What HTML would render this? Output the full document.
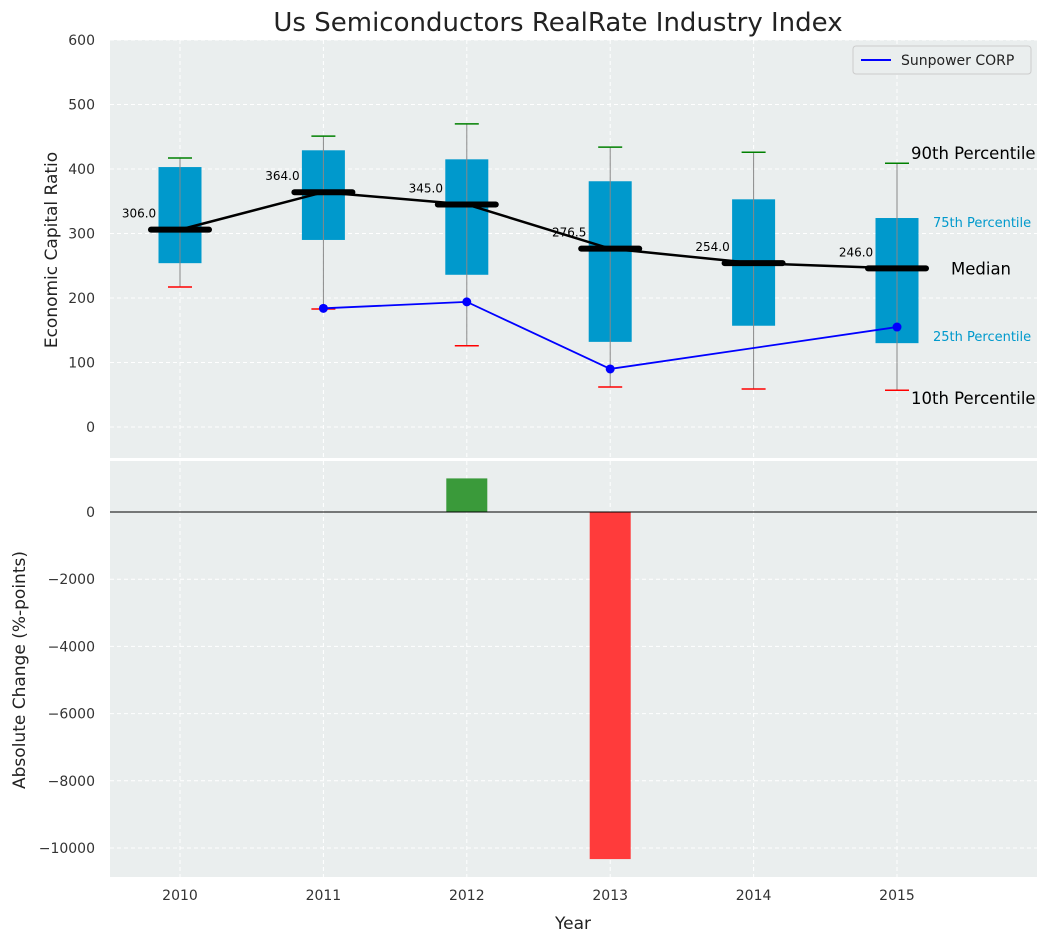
<!DOCTYPE html>
<html><head><meta charset="utf-8"><style>
body{margin:0;background:#fff;font-family:"Liberation Sans","DejaVu Sans",sans-serif}
svg text{font-family:"DejaVu Sans","Liberation Sans",sans-serif}
</style></head><body>
<svg id="chart" width="1048" height="942" xmlns="http://www.w3.org/2000/svg">
<text x="558" y="31" font-size="26" text-anchor="middle" fill="#222">Us Semiconductors RealRate Industry Index</text>
<rect x="110" y="40" width="927" height="418" fill="#eaeeee"/>
<rect x="110" y="461" width="927" height="416" fill="#eaeeee"/>
<g id="grid"></g>
<g id="marks"></g>
<text transform="translate(57,250) rotate(-90)" font-size="17" text-anchor="middle" fill="#222">Economic Capital Ratio</text>
<text transform="translate(25,670) rotate(-90)" font-size="17" text-anchor="middle" fill="#222">Absolute Change (%-points)</text>
<text x="573" y="929" font-size="17" text-anchor="middle" fill="#222">Year</text>
<g>
<rect x="853" y="46" width="178" height="28" fill="#eaeeee" stroke="#ccc" rx="3"/>
<line x1="861" y1="60" x2="891" y2="60" stroke="blue" stroke-width="2"/>
<text x="901" y="65" font-size="14" fill="#222">Sunpower CORP</text>
</g>
</svg>
<script>
const years=[2010,2011,2012,2013,2014,2015];
const p10=[217,183,126,62,59,57];
const p25=[254,290,236,132,157,130];
const median=[306,364,345,276.5,254,246];
const p75=[403,429,415,381,353,324];
const p90=[417,451,470,434,426,409];
const companyYears=[2011,2012,2013,2015];
const companyVals=[184,194,90,155];
const changeYears=[2012,2013];
const changeVals=[1000,-10330];
const topTicks=[600,500,400,300,200,100,0];
const botTicks=[0,-2000,-4000,-6000,-8000,-10000];

const NS="http://www.w3.org/2000/svg";
const X=y=>180+(y-2010)*143.4;
const Y1=v=>427-v*0.645;
const Y2=v=>512-v*0.0336;
const grid=document.getElementById('grid'), marks=document.getElementById('marks'), svg=document.getElementById('chart');
function el(t,a,p){const e=document.createElementNS(NS,t);for(const k in a)e.setAttribute(k,a[k]);(p||marks).appendChild(e);return e;}
function tx(s,a,p){const e=el('text',a,p);e.textContent=s;return e;}

topTicks.forEach(v=>{
 const g=el('line',{x1:110,x2:1037,y1:Y1(v),y2:Y1(v),stroke:'#fff','stroke-dasharray':'4,3','stroke-width':1},grid);
 
 
 const t=tx(String(v),{x:95,y:Y1(v)+5,'font-size':14,'text-anchor':'end',fill:'#333'},svg);
 
 
});
botTicks.forEach(v=>{
 const g=el('line',{x1:110,x2:1037,y1:Y2(v),y2:Y2(v),stroke:'#fff','stroke-dasharray':'4,3','stroke-width':1},grid);
 
 
 const t=tx(String(v).replace('-','\u2212'),{x:95,y:Y2(v)+5,'font-size':14,'text-anchor':'end',fill:'#333'},svg);
 
 
});
years.forEach(y=>{
 [[40,458],[461,877]].forEach(r=>{const g=el('line',{x1:X(y),x2:X(y),y1:r[0],y2:r[1],stroke:'#fff','stroke-dasharray':'4,3'},grid);
 
 });
 const t=tx(String(y),{x:X(y),y:900,'font-size':14,'text-anchor':'middle',fill:'#333'},svg);
 
 
});

years.forEach((y,i)=>{
 const x=X(y);
 const b=el('rect',{x:x-21.5,y:Y1(p75[i]),width:43,height:Y1(p25[i])-Y1(p75[i]),fill:'#0099cc'});
 
 
 const w=el('line',{x1:x,x2:x,y1:Y1(p90[i]),y2:Y1(p10[i]),stroke:'#888','stroke-width':1});
 
 
 const c1=el('line',{x1:x-12,x2:x+12,y1:Y1(p90[i]),y2:Y1(p90[i]),stroke:'green','stroke-width':1.5});
 
 
 const c2=el('line',{x1:x-12,x2:x+12,y1:Y1(p10[i]),y2:Y1(p10[i]),stroke:'red','stroke-width':1.5});
 
 
});
const ml=el('polyline',{points:years.map((y,i)=>X(y)+','+Y1(median[i])).join(' '),fill:'none',stroke:'#000','stroke-width':2.5});


years.forEach((y,i)=>{
 const m=el('line',{x1:X(y)-29,x2:X(y)+29,y1:Y1(median[i]),y2:Y1(median[i]),stroke:'#000','stroke-width':6,'stroke-linecap':'round'});
 
 
 const t=tx(median[i].toFixed(1),{x:X(y)-41,y:Y1(median[i])-12,'font-size':12,'text-anchor':'middle',fill:'#000'});
 
 
});
const cl=el('polyline',{points:companyYears.map((y,i)=>X(y)+','+Y1(companyVals[i])).join(' '),fill:'none',stroke:'blue','stroke-width':1.8});


companyYears.forEach((y,i)=>{
 const p=el('circle',{cx:X(y),cy:Y1(companyVals[i]),r:4.5,fill:'blue'});
 
 
});
const li=years.length-1, lx=X(years[li]);
[['90th Percentile',p90[li],14,16.5,'#000',-4],['75th Percentile',p75[li],36,13,'#0099cc',9],['Median',median[li],54,16.5,'#000',6],['25th Percentile',p25[li],36,13,'#0099cc',-2],['10th Percentile',p10[li],14,16.5,'#000',14]].forEach(a=>{
 const t=tx(a[0],{x:lx+a[2],y:Y1(a[1])+a[5],'font-size':a[3],fill:a[4]});
 
 
});
changeYears.forEach((y,i)=>{
 const v=changeVals[i];
 const r=el('rect',{x:X(y)-20.5,y:Math.min(Y2(v),Y2(0)),width:41,height:Math.abs(Y2(v)-Y2(0)),fill:v>=0?'#3a9a3a':'#ff3b3b'});
 
 
});
const z=el('line',{x1:110,x2:1037,y1:Y2(0),y2:Y2(0),stroke:'#000','stroke-width':1});


</script>
</body></html>
